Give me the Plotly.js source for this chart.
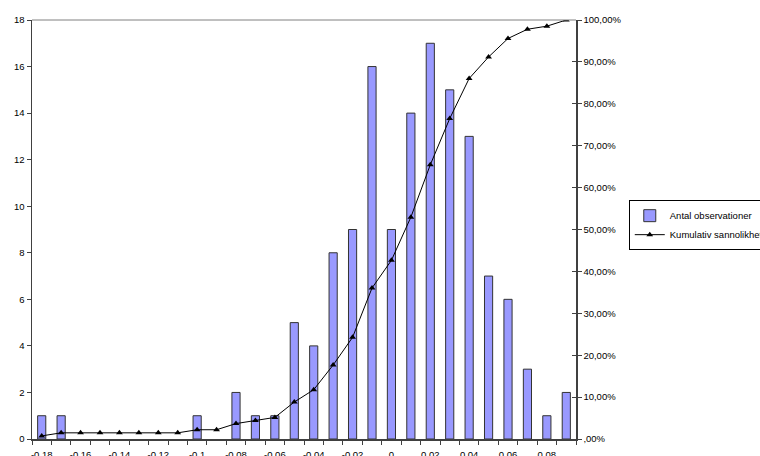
<!DOCTYPE html>
<html>
<head>
<meta charset="utf-8">
<script src="https://cdn.plot.ly/plotly-3.0.1.min.js"></script>
<style>
  html, body { margin: 0; padding: 0; background: #fff; }
  #chart { width: 760px; height: 456px; }
</style>
</head>
<body>
<div id="chart"></div>
<script>
// Class midpoints of the return histogram
const categories = [-0.18, -0.17, -0.16, -0.15, -0.14, -0.13, -0.12, -0.11, -0.10, -0.09,
                    -0.08, -0.07, -0.06, -0.05, -0.04, -0.03, -0.02, -0.01, 0.00, 0.01,
                    0.02, 0.03, 0.04, 0.05, 0.06, 0.07, 0.08, 0.09];
// Number of observations per class
const antalObservationer = [1, 1, 0, 0, 0, 0, 0, 0, 1, 0,
                            2, 1, 1, 5, 4, 8, 9, 16, 9, 14,
                            17, 15, 13, 7, 6, 3, 1, 2];
// Cumulative probability per class
const kumulativSannolikhet = [0.0074, 0.0147, 0.0147, 0.0147, 0.0147, 0.0147, 0.0147, 0.0147, 0.0221, 0.0221,
                              0.0368, 0.0441, 0.0515, 0.0882, 0.1176, 0.1765, 0.2426, 0.3603, 0.4265, 0.5294,
                              0.6544, 0.7647, 0.8603, 0.9118, 0.9559, 0.9779, 0.9853, 1.0000];
// Axis labels
const xTickValues = [-0.18, -0.16, -0.14, -0.12, -0.10, -0.08, -0.06, -0.04, -0.02, 0.00, 0.02, 0.04, 0.06, 0.08];
const xTickLabels = ["-0.18", "-0.16", "-0.14", "-0.12", "-0.1", "-0.08", "-0.06", "-0.04", "-0.02", "0", "0.02", "0.04", "0.06", "0.08"];
const pctTickValues = [0, 0.1, 0.2, 0.3, 0.4, 0.5, 0.6, 0.7, 0.8, 0.9, 1.0];
const pctTickLabels = [",00%", "10,00%", "20,00%", "30,00%", "40,00%", "50,00%", "60,00%", "70,00%", "80,00%", "90,00%", "100,00%"];

const step = 0.01;
const xRange = [categories[0] - step / 2, categories[categories.length - 1] + step / 2];
// tick marks sit on the class boundaries
const boundaries = categories.map(c => c - step / 2).concat([xRange[1]]);
// empty classes get no outline
const barOutline = antalObservationer.map(v => (v > 0 ? 1 : 0));

const FONT = "Liberation Sans, Arial, sans-serif";
const FS = 9.5;
const AXIS = "#404040";

const traces = [
  {
    type: "bar",
    name: "Antal observationer",
    x: categories,
    y: antalObservationer,
    xaxis: "x",
    yaxis: "y",
    marker: { color: "#9999ff", line: { color: "#333333", width: barOutline } }
  },
  {
    type: "scatter",
    mode: "lines+markers",
    name: "Kumulativ sannolikhet",
    x: categories,
    y: kumulativSannolikhet,
    xaxis: "x",
    yaxis: "y2",
    line: { color: "#000000", width: 1 },
    marker: { symbol: "triangle-up", size: 6, color: "#000000" }
  }
];

const layout = {
  width: 760,
  height: 456,
  margin: { l: 32, r: 184, t: 20, b: 17, autoexpand: false },
  paper_bgcolor: "#ffffff",
  plot_bgcolor: "#ffffff",
  font: { family: FONT, size: FS, color: "#000000" },
  bargap: 0.58,
  showlegend: true,
  legend: {
    x: 1.097, y: 0.57, xanchor: "left", yanchor: "top",
    bordercolor: "#000000", borderwidth: 1,
    font: { family: FONT, size: FS, color: "#000000" },
    tracegroupgap: 0, itemwidth: 30
  },
  xaxis: {
    range: xRange,
    tickmode: "array",
    tickvals: boundaries,
    showticklabels: false,
    ticks: "outside", ticklen: 4, tickcolor: AXIS,
    showline: true, linecolor: AXIS, linewidth: 1.5,
    showgrid: false, zeroline: false, fixedrange: true
  },
  xaxis2: {
    overlaying: "x", anchor: "y", side: "bottom",
    range: xRange,
    tickmode: "array",
    tickvals: xTickValues, ticktext: xTickLabels,
    ticks: "", ticklabelstandoff: 8,
    tickfont: { family: FONT, size: FS, color: "#000000" },
    showline: false, showgrid: false, zeroline: false, fixedrange: true
  },
  yaxis: {
    range: [0, 18],
    tickmode: "linear", tick0: 0, dtick: 2,
    ticks: "outside", ticklen: 4, tickcolor: AXIS,
    tickfont: { family: FONT, size: FS, color: "#000000" },
    showline: true, linecolor: AXIS, linewidth: 1.5,
    showgrid: false, zeroline: false, fixedrange: true
  },
  yaxis2: {
    overlaying: "y", side: "right", anchor: "x",
    range: [0, 1],
    tickmode: "array", tickvals: pctTickValues, ticktext: pctTickLabels,
    ticks: "outside", ticklen: 4, tickcolor: AXIS,
    tickfont: { family: FONT, size: FS, color: "#000000" },
    showline: true, linecolor: AXIS, linewidth: 1.5,
    showgrid: false, zeroline: false, fixedrange: true
  },
  yaxis3: {
    overlaying: "y", side: "right", anchor: "x",
    range: [0, 1],
    tickmode: "array", tickvals: pctTickValues,
    showticklabels: false,
    ticks: "inside", ticklen: 4, tickcolor: AXIS,
    showline: false, showgrid: false, zeroline: false, fixedrange: true
  },
  shapes: [
    { type: "line", xref: "paper", yref: "paper", x0: 0, x1: 1, y0: 1, y1: 1,
      line: { color: "#808080", width: 1 } }
  ]
};

// invisible helpers that bring the label axis and the inner tick marks to life
traces.push({ x: [categories[0]], y: [0], xaxis: "x2", yaxis: "y", type: "scatter", mode: "none", showlegend: false, hoverinfo: "skip" });
traces.push({ x: [categories[0]], y: [0], xaxis: "x", yaxis: "y3", type: "scatter", mode: "none", showlegend: false, hoverinfo: "skip" });

Plotly.newPlot("chart", traces, layout, { staticPlot: true, displayModeBar: false });
</script>
</body>
</html>
